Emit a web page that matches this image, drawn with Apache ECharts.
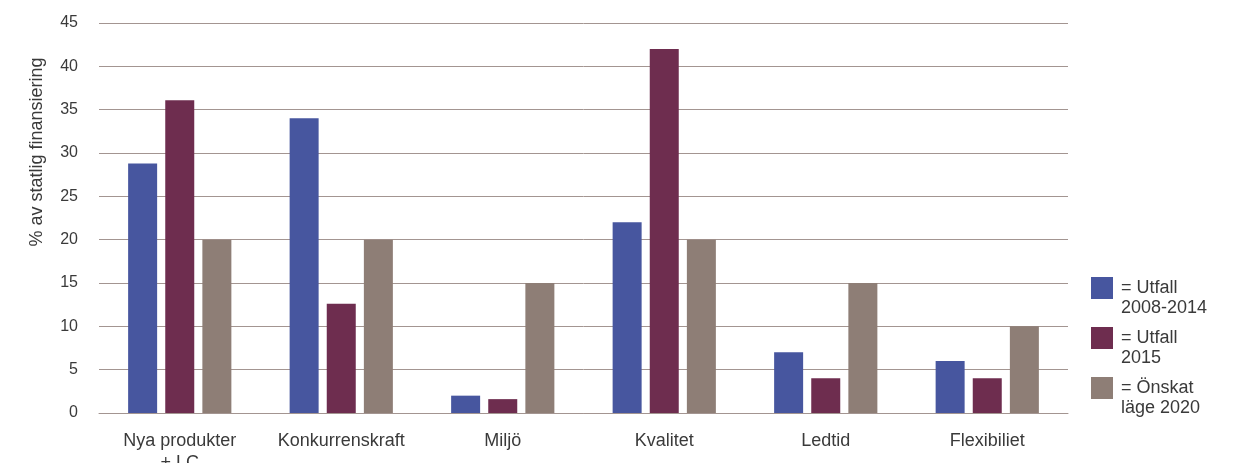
<!DOCTYPE html>
<html>
<head>
<meta charset="utf-8">
<script src="https://cdn.jsdelivr.net/npm/echarts@6/dist/echarts.min.js"></script>
<style>
  html, body { margin: 0; padding: 0; background: #fff; }
  #chart { width: 1247px; height: 463px; }
</style>
</head>
<body>
<div id="chart"></div>
<script>
// Områden och andel statlig finansiering (%)
const categories = ['Nya produkter\n+ LC', 'Konkurrenskraft', 'Miljö', 'Kvalitet', 'Ledtid', 'Flexibiliet'];
const seriesNames = ['= Utfall\n2008-2014', '= Utfall\n2015', '= Önskat\nläge 2020'];
const utfall2008_2014 = [28.8, 34, 2, 22, 7, 6];
const utfall2015 = [36.1, 12.6, 1.6, 42, 4, 4];
const onskat2020 = [20, 20, 15, 20, 15, 10];
const yTicks = [0, 5, 10, 15, 20, 25, 30, 35, 40, 45];

const colors = ['#47569f', '#6e2d4f', '#8e7e76'];
const font = '"Liberation Sans", Arial, sans-serif';
const textColor = '#3a3a3a';
const gridColor = '#a39591';

const values = [utfall2008_2014, utfall2015, onskat2020];

const chart = echarts.init(document.getElementById('chart'), null, { renderer: 'canvas' });

chart.setOption({
  backgroundColor: '#fff',
  animation: false,
  grid: {
    left: 99, right: 179, top: 23, bottom: 50,
    containLabel: false,
    outerBoundsMode: 'none'
  },
  xAxis: {
    type: 'category',
    data: categories,
    axisLine: { show: true, lineStyle: { color: gridColor, width: 1 } },
    axisTick: { show: false },
    axisLabel: {
      interval: 0,
      margin: 17,
      color: textColor,
      fontFamily: font,
      fontSize: 18,
      lineHeight: 22
    }
  },
  yAxis: {
    type: 'value',
    min: yTicks[0],
    max: yTicks[yTicks.length - 1],
    interval: 5,
    axisLine: { show: false },
    axisTick: { show: false },
    axisLabel: {
      margin: 21,
      color: textColor,
      fontFamily: font,
      fontSize: 16
    },
    splitLine: { lineStyle: { color: gridColor, width: 1 } }
  },
  legend: {
    orient: 'vertical',
    left: 1091,
    top: 258,
    padding: 0,
    itemWidth: 22,
    itemHeight: 22,
    itemGap: -10,
    icon: 'rect',
    selectedMode: false,
    // a leading blank line puts the first text line level with the swatch
    formatter: name => '\n' + name,
    textStyle: {
      color: textColor,
      fontFamily: font,
      fontSize: 18,
      lineHeight: 20,
      padding: [0, 0, 0, 3]
    },
    data: seriesNames
  },
  graphic: [{
    type: 'text',
    x: 37,
    y: 152,
    rotation: Math.PI / 2,
    style: {
      text: '% av statlig finansiering',
      fill: textColor,
      font: '18px ' + font,
      textAlign: 'center',
      textVerticalAlign: 'middle'
    }
  }],
  series: seriesNames.map((name, i) => ({
    name: name,
    type: 'bar',
    data: values[i],
    barWidth: 29,
    barGap: '28%',
    itemStyle: { color: colors[i] }
  }))
});
</script>
</body>
</html>
